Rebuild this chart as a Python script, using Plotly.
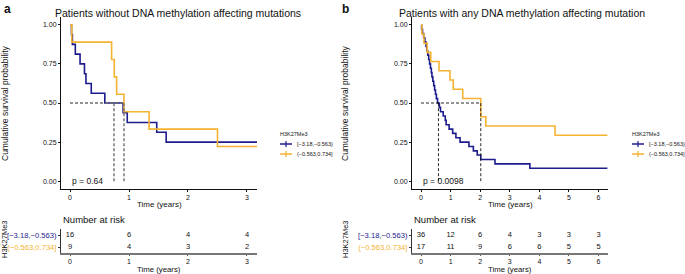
import plotly.graph_objects as go

# ---------------- data ----------------
# Panel a: patients without DNA methylation affecting mutations
a_low_time = [0, 0.025, 0.04, 0.09, 0.17, 0.245, 0.27, 0.36, 0.59, 0.90, 0.97, 1.47, 1.63, 3.17]
a_low_surv = [1.0, 0.9375, 0.875, 0.8125, 0.75, 0.6875, 0.625, 0.5625, 0.5, 0.4375, 0.375, 0.3125, 0.25, 0.25]
a_high_time = [0, 0.03, 0.705, 0.75, 0.79, 0.915, 1.34, 2.5, 3.17]
a_high_surv = [1.0, 0.889, 0.778, 0.667, 0.556, 0.444, 0.333, 0.222, 0.222]
a_medians = [0.745, 0.915]
a_pvalue = "p = 0.64"
a_risk_times = [0, 1, 2, 3]
a_risk_low = [16, 6, 4, 4]
a_risk_high = [9, 4, 3, 2]

# Panel b: patients with any DNA methylation affecting mutation
b_low_time = [0, 0.02, 0.05, 0.09, 0.13, 0.17, 0.20, 0.23, 0.26, 0.29, 0.32, 0.35, 0.37, 0.40,
              0.43, 0.46, 0.49, 0.52, 0.56, 0.62, 0.66, 0.75, 0.82, 0.85, 0.95, 1.07, 1.18,
              1.32, 1.62, 1.77, 1.90, 2.02, 2.50, 3.68, 6.3]
b_low_surv = [1.0, 0.972, 0.944, 0.917, 0.889, 0.861, 0.833, 0.806, 0.778, 0.750, 0.722, 0.694,
              0.667, 0.639, 0.611, 0.583, 0.556, 0.528, 0.500, 0.472, 0.444, 0.417, 0.389, 0.361,
              0.333, 0.306, 0.278, 0.250, 0.222, 0.194, 0.167, 0.139, 0.111, 0.083, 0.083]
b_high_time = [0, 0.03, 0.10, 0.21, 0.33, 0.61, 0.98, 1.09, 1.41, 2.02, 2.19, 4.53, 6.3]
b_high_surv = [1.0, 0.941, 0.882, 0.824, 0.765, 0.706, 0.647, 0.588, 0.529, 0.412, 0.353, 0.294, 0.294]
b_medians = [0.59, 2.02]
b_pvalue = "p = 0.0098"
b_risk_times = [0, 1, 2, 3, 4, 5, 6]
b_risk_low = [36, 12, 6, 4, 3, 3, 3]
b_risk_high = [17, 11, 9, 6, 6, 5, 5]

strata = ["[−3.18,−0.563)", "(−0.563,0.734]"]
titles = ["Patients without DNA methylation affecting mutations",
          "Patients with any DNA methylation affecting mutation"]
panel_letters = ["a", "b"]

# ---------------- style ----------------
W, H = 685, 274
BLUE = "#1c1c8c"
ORANGE = "#f4b331"
FONT = "Liberation Sans, Arial, sans-serif"


def px(x):
    return x / W


def py(y):
    return 1 - y / H


fig = go.Figure()

panels = [
    dict(lt=a_low_time, ls=a_low_surv, ht=a_high_time, hs=a_high_surv, med=a_medians,
         p=a_pvalue, rt=a_risk_times, rl=a_risk_low, rh=a_risk_high,
         xl=61, xr=257, xrange=[-0.153, 3.17], medcol="#6e6e6e", medw=1.4,
         leg_x=278, ylab_x=5, risk_lab_x=4, letter_x=7, title_x=178),
    dict(lt=b_low_time, ls=b_low_surv, ht=b_high_time, hs=b_high_surv, med=b_medians,
         p=b_pvalue, rt=b_risk_times, rl=b_risk_low, rh=b_risk_high,
         xl=412, xr=608, xrange=[-0.304, 6.32], medcol="#111111", medw=0.9,
         leg_x=630, ylab_x=345, risk_lab_x=345, letter_x=345, title_x=522),
]

main_top, main_bot = 17, 189
risk_top, risk_bot = 229, 253

layout_axes = {}
shapes = []
annotations = []

for i, P in enumerate(panels):
    xm_id = 2 * i + 1
    xr_id = 2 * i + 2
    xm_name = "x" if xm_id == 1 else f"x{xm_id}"
    ym_name = "y" if xm_id == 1 else f"y{xm_id}"
    xr_name = f"x{xr_id}"
    yr_name = f"y{xr_id}"

    # KM curves
    fig.add_trace(go.Scatter(x=P["lt"], y=P["ls"], mode="lines", line=dict(color=BLUE, width=1.6, shape="hv"),
                             xaxis=xm_name, yaxis=ym_name, showlegend=False, hoverinfo="skip"))
    fig.add_trace(go.Scatter(x=P["ht"], y=P["hs"], mode="lines", line=dict(color=ORANGE, width=1.6, shape="hv"),
                             xaxis=xm_name, yaxis=ym_name, showlegend=False, hoverinfo="skip"))
    # median lines
    dash = "3px,2px"
    fig.add_trace(go.Scatter(x=[0, max(P["med"])], y=[0.5, 0.5], mode="lines",
                             line=dict(color=P["medcol"], width=P["medw"], dash=dash),
                             xaxis=xm_name, yaxis=ym_name, showlegend=False, hoverinfo="skip"))
    for m in P["med"]:
        fig.add_trace(go.Scatter(x=[m, m], y=[0, 0.5], mode="lines",
                                 line=dict(color=P["medcol"], width=P["medw"], dash=dash),
                                 xaxis=xm_name, yaxis=ym_name, showlegend=False, hoverinfo="skip"))
    # risk table numbers
    fig.add_trace(go.Scatter(x=P["rt"], y=[1] * len(P["rt"]), mode="text", text=[str(v) for v in P["rl"]],
                             textfont=dict(size=7.5, color="#111", family=FONT),
                             xaxis=xr_name, yaxis=yr_name, showlegend=False, hoverinfo="skip"))
    fig.add_trace(go.Scatter(x=P["rt"], y=[0] * len(P["rt"]), mode="text", text=[str(v) for v in P["rh"]],
                             textfont=dict(size=7.5, color="#111", family=FONT),
                             xaxis=xr_name, yaxis=yr_name, showlegend=False, hoverinfo="skip"))

    xdom = [px(P["xl"]), px(P["xr"])]
    common_x = dict(domain=xdom, range=P["xrange"], dtick=1, tick0=0, showgrid=False, zeroline=False,
                    showline=True, ticks="outside", ticklen=2, tickwidth=1,
                    tickfont=dict(size=7, family=FONT, color="#111"))
    layout_axes["xaxis" if xm_id == 1 else f"xaxis{xm_id}"] = dict(
        common_x, anchor=ym_name, linecolor="#111", linewidth=1, tickcolor="#111")
    layout_axes["yaxis" if xm_id == 1 else f"yaxis{xm_id}"] = dict(
        domain=[py(main_bot), py(main_top)], range=[-0.05, 1.05], anchor=xm_name,
        tickvals=[0, 0.25, 0.5, 0.75, 1.0], ticktext=["0.00", "0.25", "0.50", "0.75", "1.00"],
        showgrid=False, zeroline=False, showline=True, linewidth=1, linecolor="#111",
        ticks="outside", ticklen=2, tickcolor="#111", tickfont=dict(size=7, family=FONT, color="#111"))
    layout_axes[f"xaxis{xr_id}"] = dict(common_x, anchor=yr_name, linecolor="#777", linewidth=2,
                                         tickcolor="#555", ticklen=1)
    layout_axes[f"yaxis{xr_id}"] = dict(
        domain=[py(risk_bot), py(risk_top)], range=[-0.5, 1.5], anchor=xr_name,
        tickvals=[1, 0],
        ticktext=[f"<span style='color:{BLUE}'>{strata[0]}</span>",
                  f"<span style='color:{ORANGE}'>{strata[1]}</span>"],
        showgrid=False, zeroline=False, showline=True, linewidth=1, linecolor="#333",
        ticks="outside", ticklen=2, tickcolor="#333", tickfont=dict(size=7.6, family=FONT))

    xc = (P["xl"] + P["xr"]) / 2
    # x axis titles
    for yy, fs in ((204, 8), (269, 7.8)):
        annotations.append(dict(x=px(xc), y=py(yy), xref="paper", yref="paper", text="Time (years)",
                                showarrow=False, xanchor="center", yanchor="middle",
                                font=dict(size=fs, family=FONT, color="#111")))
    # p-value
    annotations.append(dict(x=0, y=0, xref=xm_name, yref=ym_name, text=P["p"], showarrow=False,
                            xanchor="left", yanchor="middle", font=dict(size=8.5, family=FONT, color="#111")))
    # title & letter
    annotations.append(dict(x=px(P["title_x"]), y=py(13), xref="paper", yref="paper", text=titles[i],
                            showarrow=False, xanchor="center", yanchor="middle",
                            font=dict(size=10.5, family=FONT, color="#111")))
    annotations.append(dict(x=px(P["letter_x"]), y=py(9), xref="paper", yref="paper",
                            text=f"<b>{panel_letters[i]}</b>", showarrow=False, xanchor="center",
                            yanchor="middle", font=dict(size=12, family=FONT, color="#111")))
    # y axis title (main)
    annotations.append(dict(x=px(P["ylab_x"]), y=py((main_top + main_bot) / 2), xref="paper", yref="paper",
                            text="Cumulative survival probability", textangle=-90, showarrow=False,
                            xanchor="center", yanchor="middle", font=dict(size=8.5, family=FONT, color="#111")))
    # risk table y title
    annotations.append(dict(x=px(P["risk_lab_x"]), y=py(239), xref="paper", yref="paper",
                            text="H3K27Me3", textangle=-90, showarrow=False,
                            xanchor="center", yanchor="middle", font=dict(size=7.5, family=FONT, color="#111")))
    # number at risk
    annotations.append(dict(x=px(P["xl"]), y=py(219), xref="paper", yref="paper",
                            text="Number at risk", showarrow=False, xanchor="left", yanchor="middle",
                            font=dict(size=9.5, family=FONT, color="#111")))
    # legend
    lx = P["leg_x"]
    annotations.append(dict(x=px(lx), y=py(134), xref="paper", yref="paper", text="H3K27Me3",
                            showarrow=False, xanchor="left", yanchor="middle",
                            font=dict(size=5.5, family=FONT, color="#111")))
    for k, (col, lab) in enumerate(zip([BLUE, ORANGE], strata)):
        yy = 144 + 10 * k
        shapes.append(dict(type="line", xref="paper", yref="paper", x0=px(lx + 2), x1=px(lx + 14),
                           y0=py(yy), y1=py(yy), line=dict(color=col, width=1.5)))
        shapes.append(dict(type="line", xref="paper", yref="paper", x0=px(lx + 8), x1=px(lx + 8),
                           y0=py(yy - 3), y1=py(yy + 3), line=dict(color=col, width=1.2)))
        annotations.append(dict(x=px(lx + 17), y=py(yy), xref="paper", yref="paper", text=lab,
                                showarrow=False, xanchor="left", yanchor="middle",
                                font=dict(size=5.5, family=FONT, color="#111")))

fig.update_layout(
    width=W, height=H, margin=dict(l=0, r=0, t=0, b=0),
    paper_bgcolor="white", plot_bgcolor="white",
    font=dict(family=FONT), showlegend=False,
    shapes=shapes, annotations=annotations, **layout_axes)

fig.write_html("out.html", config={"displayModeBar": False},
               post_script="document.body.style.margin='0';document.body.style.overflow='hidden';")
